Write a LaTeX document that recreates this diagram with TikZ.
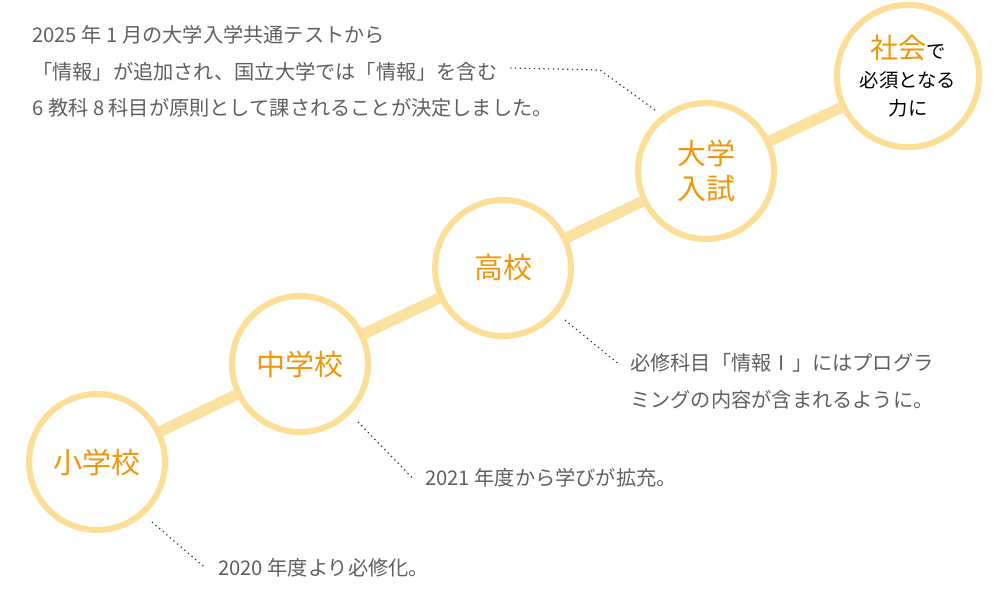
\documentclass[tikz,border=0pt]{standalone}
\usepackage{fontspec}
\setmainfont{Noto Sans CJK JP}
\definecolor{ring}{RGB}{253,222,150}
\definecolor{bar}{RGB}{252,226,160}
\definecolor{stage}{RGB}{240,150,10}
\definecolor{note}{RGB}{95,95,95}
\tikzstyle{stage}=[circle, draw=ring, line width=1.2mm, fill=white, minimum size=2.72cm, text=stage, font=\fontsize{16.5}{20}\selectfont, align=center]
\tikzset{lead/.style={dotted, black!80, line width=.7pt}}
\tikzstyle{memo}=[anchor=west, text=note, font=\fontsize{11.5}{14}\selectfont, inner sep=0pt]
\begin{document}
\begin{tikzpicture}[x=0.02cm,y=-0.02cm]
  \useasboundingbox (0,0) rectangle (1000,600);
  \node[stage] (elem) at (97,462) {小学校};
  \node[stage] (junior) at (300,364) {中学校};
  \node[stage] (high) at (503,268) {高校};
  \node[stage] (univ) at (706,171) {大学\\入試};
  \node[stage, text=black, font=\fontsize{11}{16}\selectfont] (society) at (908,76)
    {{\color{stage}\fontsize{16}{18}\selectfont 社会}で\\必須となる\\力に};

  \draw[bar, line width=2.2mm] (elem) -- (junior);
  \draw[bar, line width=2.2mm] (junior) -- (high);
  \draw[bar, line width=2.2mm] (high) -- (univ);
  \draw[bar, line width=2.2mm] (univ) -- (society);

  %% notes
  \node[memo] (n1) at (218,568) {2020 年度より必修化。};
  \node[memo] (n2) at (425,478) {2021 年度から学びが拡充。};
  \node[memo] (n3a) at (630,363) {必修科目「情報Ⅰ」にはプログラ};
  \node[memo] (n3b) at (630,400) {ミングの内容が含まれるように。};
  \node[memo] (n4a) at (32,35) {2025 年 1 月の大学入学共通テストから};
  \node[memo] (n4b) at (32,72) {「情報」が追加され、国立大学では「情報」を含む};
  \node[memo] (n4c) at (32,108) {6 教科 8 科目が原則として課されることが決定しました。};

  \coordinate (c1) at (152,522);
  \coordinate (c2) at (358,422);
  \coordinate (c3) at (565,320);
  \coordinate (c4) at (655,110);
  \coordinate (k4) at (600,70);
  \draw[lead] (c1) -- ([xshift=-0.25cm]n1.west);
  \draw[lead] (c2) -- ([xshift=-0.25cm]n2.west);
  \draw[lead] (c3) -- ([xshift=-0.25cm]n3a.west);
  \draw[lead] (c4) -- (k4) -- (510,68);
\end{tikzpicture}
\end{document}
